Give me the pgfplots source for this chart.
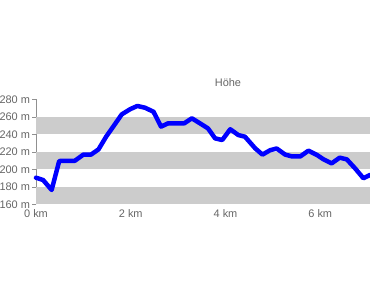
\documentclass[border=0pt]{standalone}
\usepackage{pgfplots}
\pgfplotsset{compat=1.18}
\usepackage{fontspec}
\setmainfont{Liberation Sans}
\definecolor{band}{HTML}{CCCCCC}
\definecolor{txt}{HTML}{666666}
\definecolor{axl}{HTML}{909090}
\begin{document}
\begin{tikzpicture}[x=1bp,y=1bp]
\path[use as bounding box] (0,0) rectangle (370,297);
\node[text=txt,font=\fontsize{11}{13}\selectfont] at (228,214) {Höhe};
\begin{axis}[
  at={(36bp,92.5bp)}, anchor=south west,
  scale only axis, width=334bp, height=105bp,
  xmin=0, xmax=7.05, ymin=160, ymax=280,
  axis x line*=bottom,
  axis y line*=left,
  x axis line style={draw=none, -},
  y axis line style={draw=axl, -},
  xtick={0,2,4,6},
  xticklabel={\pgfmathprintnumber{\tick} km},
  x tick style={draw=none},
  ytick={160,180,...,280},
  yticklabel={\pgfmathprintnumber{\tick} m},
  y tick style={draw=axl, line width=0.6pt},
  major tick length=4bp,
  tick align=outside,
  yticklabel style={text=txt, font=\fontsize{11}{13}\selectfont, xshift=1.5bp},
  xticklabel style={text=txt, font=\fontsize{11}{13}\selectfont, yshift=2.5bp},
  /pgf/number format/assume math mode=true,
  clip=false,
]
\fill[band] (axis cs:0,160) rectangle (axis cs:7.05,180);
\fill[band] (axis cs:0,200) rectangle (axis cs:7.05,220);
\fill[band] (axis cs:0,240) rectangle (axis cs:7.05,260);
\addplot[blue, line width=4.5bp, line join=round, line cap=round, mark=none] coordinates {
(0,190.6) (0.15,188) (0.33,176.6) (0.49,209.7) (0.82,210) (1.0,217) (1.16,217) (1.32,223)
(1.48,237.5) (1.63,249) (1.81,263) (1.99,269) (2.14,272.6) (2.30,270.6) (2.48,266)
(2.64,249) (2.79,252.8) (3.13,252.8) (3.29,258.5) (3.46,252.8) (3.63,247) (3.78,235.6)
(3.93,233.7) (4.10,246) (4.27,239.4) (4.41,237.5) (4.63,224) (4.78,217) (4.94,222)
(5.08,224) (5.26,217) (5.40,215) (5.58,215) (5.75,221.5) (5.93,216.6) (6.07,211.6)
(6.24,207) (6.41,213.5) (6.56,211.6) (6.74,201) (6.91,190) (7.05,193.7)
};
\end{axis}
\end{tikzpicture}
\end{document}
